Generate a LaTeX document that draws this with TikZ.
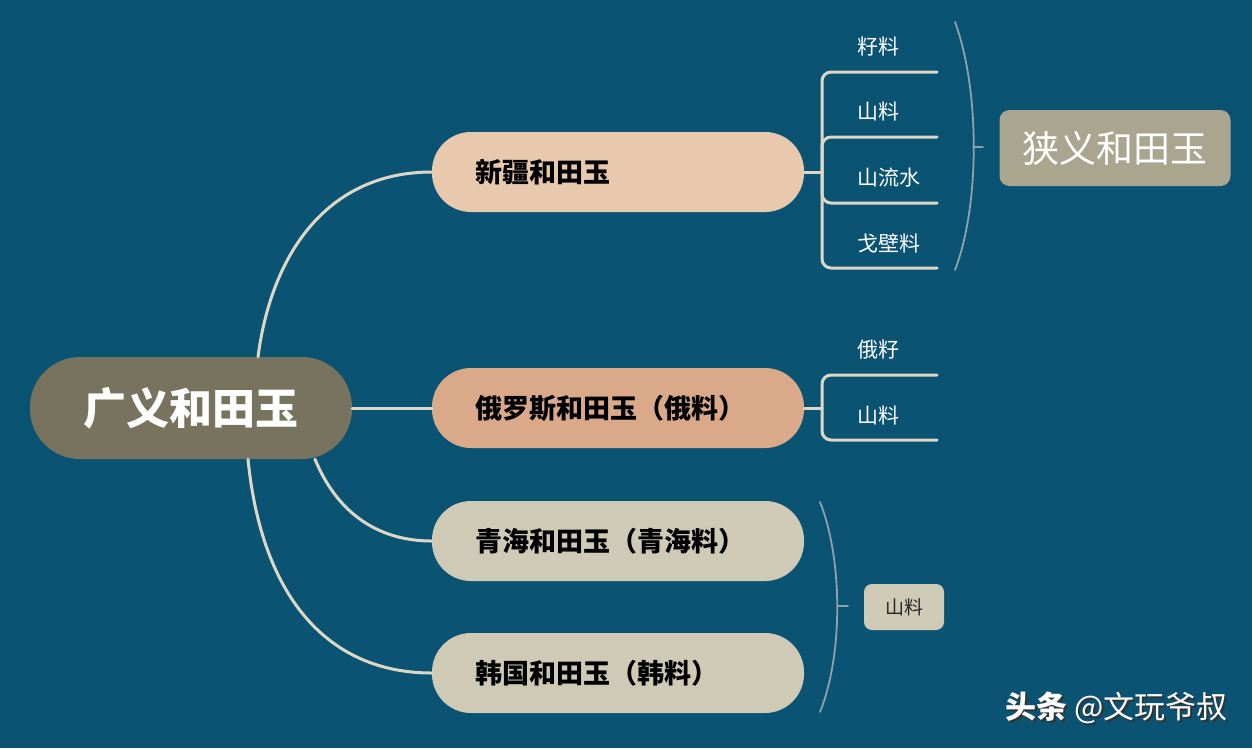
\documentclass[tikz,border=0pt]{standalone}
\usepackage{fontspec}
\setmainfont{Noto Sans CJK SC}
\usetikzlibrary{calc}
\definecolor{bg}{HTML}{0A5372}
\definecolor{rootc}{HTML}{77735F}
\definecolor{xjc}{HTML}{E8C9AE}
\definecolor{ruc}{HTML}{D9A98A}
\definecolor{qhc}{HTML}{CFCAB6}
\definecolor{linec}{HTML}{DDD8C6}
\definecolor{bracec}{HTML}{8EA2AA}
\definecolor{narrowc}{HTML}{A9A58F}
\tikzset{
  pill/.style={rectangle, rounded corners=39pt, minimum height=80pt, inner xsep=43pt, inner ysep=0pt,
    text width=286pt, align=left, font=\fontsize{27}{30}\selectfont\bfseries, text=black},
  conn/.style={draw=linec, line width=3pt, line cap=round},
  leaf/.style={anchor=west, inner sep=0pt, text=white, font=\fontsize{21}{24}\selectfont},
  bracel/.style={draw=bracec, line width=1.8pt, line cap=round},
}
\begin{document}
\begin{tikzpicture}[x=1pt,y=-1pt]
\useasboundingbox (0,0) rectangle (1252,748);
\fill[bg] (0,0) rectangle (1252,748);

% root
\node[rectangle, rounded corners=50pt, fill=rootc, minimum width=322pt, minimum height=102pt,
  text=white, font=\fontsize{43}{46}\selectfont\bfseries] (root) at (191,408) {广义和田玉};

% level-1
\node[pill, fill=xjc] (xj) at (618,172) {新疆和田玉};
\node[pill, fill=ruc] (ru) at (618,408) {俄罗斯和田玉（俄料）};
\node[pill, fill=qhc] (qh) at (618,541) {青海和田玉（青海料）};
\node[pill, fill=qhc] (kr) at (618,673) {韩国和田玉（韩料）};

% connectors root -> level 1
\draw[conn] ([xshift=67pt]root.north) .. controls (272,250) and (330,172) .. (xj.west);
\draw[conn] (root.east) -- (ru.west);
\draw[conn] ([xshift=124pt]root.south) .. controls (338,515) and (380,541) .. (qh.west);
\draw[conn] ([xshift=57pt]root.south) .. controls (262,600) and (330,673) .. (kr.west);

% Xinjiang branches
\coordinate (xjs) at (822,172);
\coordinate (xb1) at (937,72);
\coordinate (xb2) at (937,137);
\coordinate (xb3) at (937,203);
\coordinate (xb4) at (937,268);
\draw[conn] (xj.east) -- (xjs);
\foreach \b in {xb1,xb2,xb3,xb4} \draw[conn, rounded corners=9pt] (xjs) |- (\b);
\node[leaf] (l1) at (857,47) {籽料};
\node[leaf] (l2) at (857,112) {山料};
\node[leaf] (l3) at (857,178) {山流水};
\node[leaf] (l4) at (857,243) {戈壁料};

% Russia branches
\coordinate (rus) at (822,408);
\coordinate (rb1) at (937,375);
\coordinate (rb2) at (937,440);
\draw[conn] (ru.east) -- (rus);
\foreach \b in {rb1,rb2} \draw[conn, rounded corners=9pt] (rus) |- (\b);
\node[leaf] (r1) at (857,350) {俄籽};
\node[leaf] (r2) at (857,415) {山料};

% narrow brace
\coordinate (nb1) at (955,22);
\coordinate (nb2) at (955,270);
\coordinate (nbt) at (973,147);
\coordinate (nbe) at (983,147);
\draw[bracel] (nb1) .. controls (980,90) and (980,205) .. (nb2);
\draw[bracel] (nbt) -- (nbe);
\node[rectangle, rounded corners=10pt, fill=narrowc, minimum width=231pt, minimum height=76pt,
  text=white, font=\fontsize{37}{40}\selectfont] (narrow) at (1115,148) {狭义和田玉};

% bottom brace
\coordinate (bb1) at (820,502);
\coordinate (bb2) at (820,712);
\coordinate (bbt) at (838,606);
\coordinate (bbe) at (848,606);
\draw[bracel] (bb1) .. controls (843,560) and (843,655) .. (bb2);
\draw[bracel] (bbt) -- (bbe);
\node[rectangle, rounded corners=8pt, fill=qhc, minimum width=80pt, minimum height=46pt,
  text=black!85, font=\fontsize{19}{22}\selectfont] (shan) at (904,607) {山料};

% watermark
\node[anchor=east, inner sep=0pt, text=black!80, font=\fontsize{31}{34}\selectfont] (wms) at (1230,710) {\textbf{头条} @文玩爷叔};
\node[anchor=east, inner sep=0pt, text=white, font=\fontsize{31}{34}\selectfont] (wm) at (1228,708) {\textbf{头条} @文玩爷叔};
\end{tikzpicture}
\end{document}
